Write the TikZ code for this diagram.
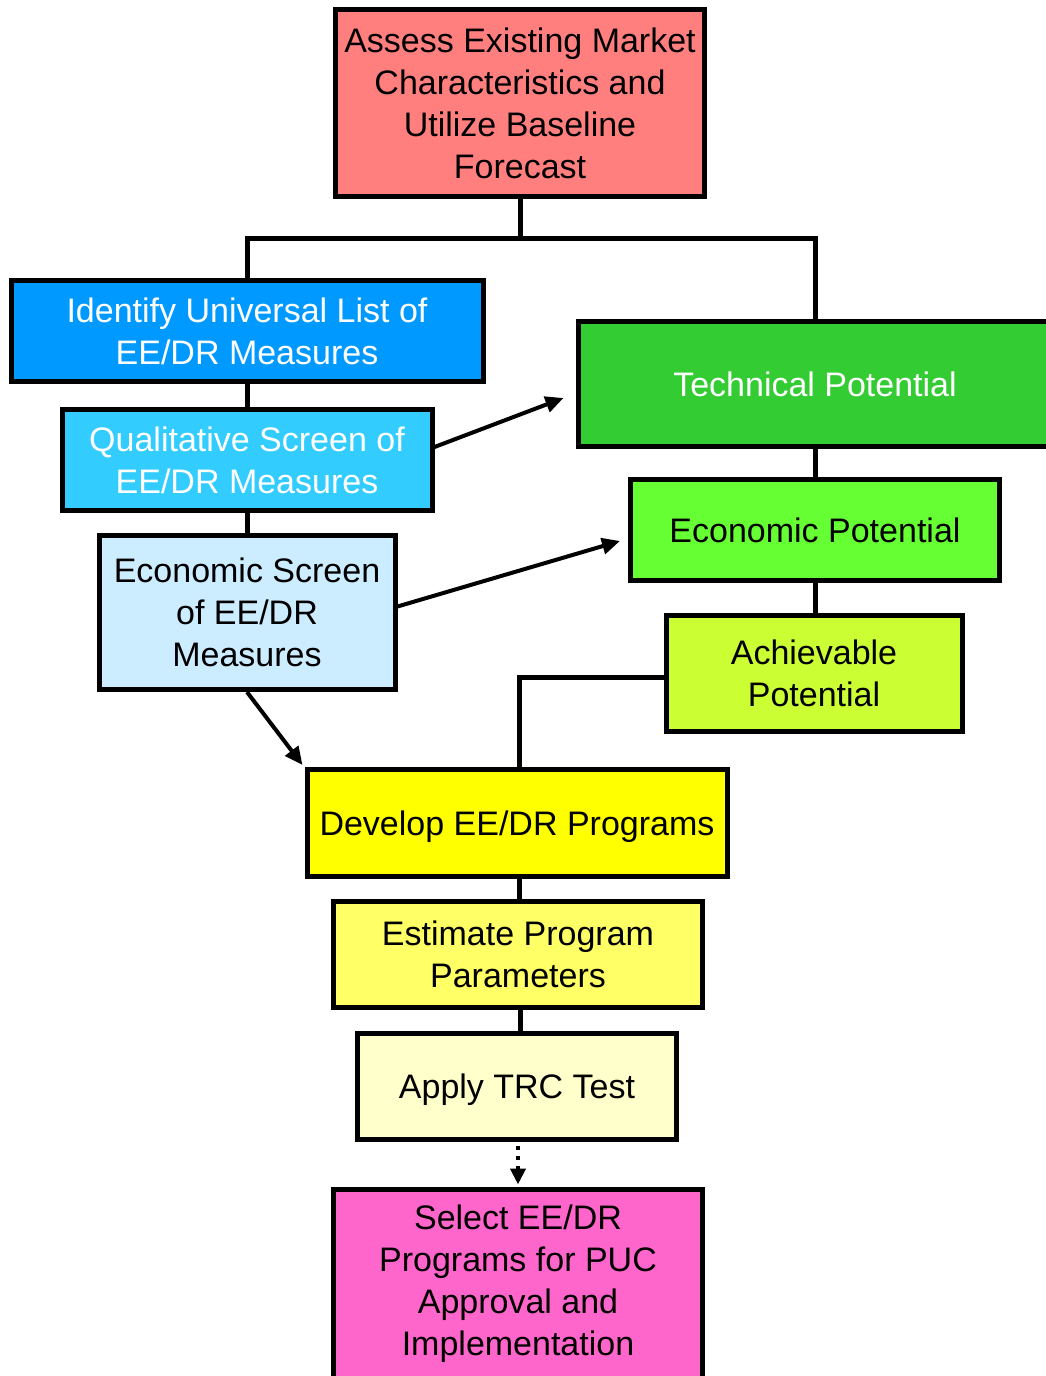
\documentclass[tikz,border=0pt]{standalone}
\usepackage{fontspec}
\setmainfont{Liberation Sans}
\usetikzlibrary{arrows.meta}
\definecolor{cAssess}{HTML}{FF7F7F}
\definecolor{cIdent}{HTML}{0099FF}
\definecolor{cQual}{HTML}{33CCFF}
\definecolor{cEscr}{HTML}{CCECFF}
\definecolor{cTech}{HTML}{33CC33}
\definecolor{cEpot}{HTML}{66FF33}
\definecolor{cAch}{HTML}{CCFF33}
\definecolor{cDev}{HTML}{FFFF00}
\definecolor{cEst}{HTML}{FFFF66}
\definecolor{cApply}{HTML}{FFFFCC}
\definecolor{cSel}{HTML}{FF66CC}
\tikzset{
  box/.style={draw=black, line width=5pt, rectangle, align=center, inner sep=0pt,
    font=\fontsize{34pt}{42pt}\selectfont},
  oneline/.style={text height=24.5pt, text depth=0pt},
  conn/.style={draw=black, line width=5pt},
  arr/.style={draw=black, line width=4pt, -{Triangle[length=18pt,width=16pt]}},
  dotarr/.style={draw=black, line width=4pt, dash pattern=on 4pt off 6pt, -{Triangle[length=16pt,width=15pt]}},
}
\begin{document}
\begin{tikzpicture}[x=1pt,y=-1pt]
\useasboundingbox (0,0) rectangle (1045,1376);
\node[box, fill=cAssess, minimum width=369pt, minimum height=187pt] (assess) at (520,103)
  {Assess Existing Market\\Characteristics and\\Utilize Baseline\\Forecast};
\node[box, fill=cIdent, text=white, minimum width=472pt, minimum height=101pt] (ident) at (247,331)
  {Identify Universal List of\\EE/DR Measures};
\node[box, fill=cQual, text=white, minimum width=370pt, minimum height=101pt] (qual) at (247,460)
  {Qualitative Screen of\\EE/DR Measures};
\node[box, fill=cEscr, minimum width=296pt, minimum height=154pt] (escr) at (247,612.5)
  {Economic Screen\\of EE/DR\\Measures};
\node[box, oneline, fill=cTech, text=white, minimum width=474pt, minimum height=125pt] (tech) at (815,384)
  {Technical Potential};
\node[box, oneline, fill=cEpot, minimum width=369pt, minimum height=101pt] (epot) at (815,530)
  {Economic Potential};
\node[box, fill=cAch, minimum width=296pt, minimum height=116pt] (ach) at (814,673.5)
  {Achievable\\Potential};
\node[box, oneline, fill=cDev, minimum width=420pt, minimum height=107pt] (dev) at (517,823)
  {Develop EE/DR Programs};
\node[box, fill=cEst, minimum width=369pt, minimum height=106pt] (est) at (518,954.5)
  {Estimate Program\\Parameters};
\node[box, oneline, fill=cApply, minimum width=319pt, minimum height=106pt] (apply) at (517,1086.5)
  {Apply TRC Test};
\node[box, fill=cSel, minimum width=369pt, minimum height=190pt] (sel) at (518,1284)
  {Select EE/DR\\Programs for PUC\\Approval and\\Implementation};
\coordinate (split) at (520,238);
\draw[conn] (assess.south) -- (split);
\draw[conn] (ident.north) |- (split) -| (tech.north);
\draw[conn] (ident.south) -- (qual.north);
\draw[conn] (qual.south) -- (escr.north);
\draw[conn] (tech.south) -- (epot.north);
\draw[conn] (epot.south) -- (epot.south |- ach.north);
\draw[conn] ([yshift=-4pt]ach.west) -| ([xshift=2pt]dev.north);
\draw[conn] ([xshift=2pt]dev.south) -- ([xshift=2pt]dev.south |- est.north);
\draw[conn] ([xshift=2pt]est.south) -- ([xshift=2pt]est.south |- apply.north);
\draw[arr] ([yshift=13pt]qual.east) -- ([xshift=-12pt,yshift=-14pt]tech.west);
\draw[arr] ([yshift=6pt]escr.east) -- ([xshift=-8pt,yshift=-11pt]epot.west);
\draw[arr] (escr.south) -- ([xshift=-2pt,yshift=2pt]dev.north west);
\draw[dotarr] ([xshift=1pt,yshift=-4pt]apply.south) -- ([xshift=0pt,yshift=2pt]sel.north);
\end{tikzpicture}
\end{document}
